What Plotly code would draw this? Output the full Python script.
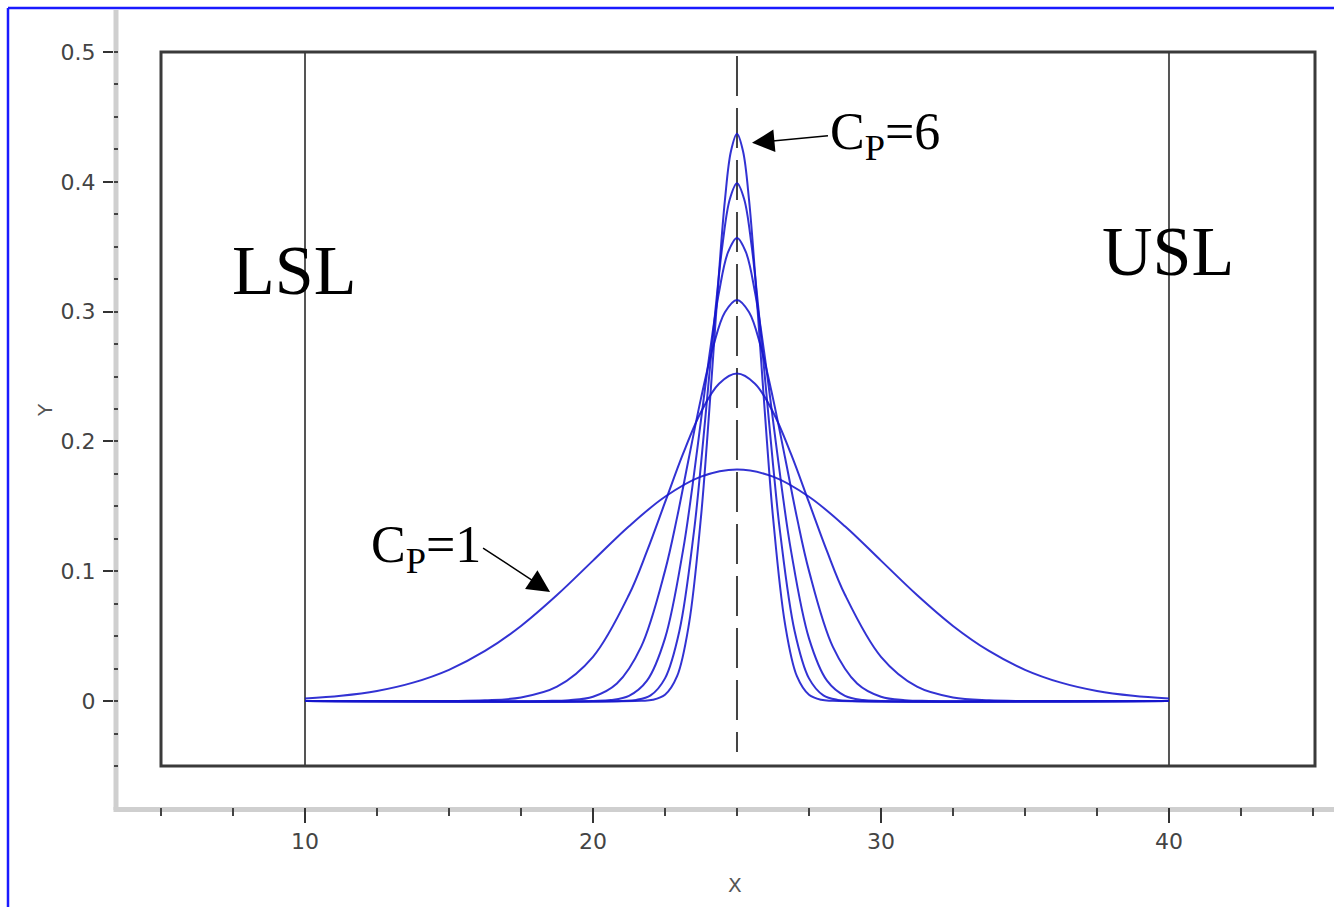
import plotly.graph_objects as go

# Process capability curves, centred between the specification limits
lsl, usl, target = 10, 40, 25
cp_levels = [1, 2, 3, 4, 5, 6]

cp1_x = [10, 11.25, 12.5, 13.75, 15, 16.25, 17.5, 18.75, 20, 21.25, 22.5, 23.75, 25,
         26.25, 27.5, 28.75, 30, 31.25, 32.5, 33.75, 35, 36.25, 37.5, 38.75, 40]
cp1_y = [0.0020, 0.0041, 0.0078, 0.0142, 0.0241, 0.0386, 0.0579, 0.0817, 0.1082,
         0.1347, 0.1574, 0.1729, 0.1784, 0.1729, 0.1574, 0.1347, 0.1082, 0.0817,
         0.0579, 0.0386, 0.0241, 0.0142, 0.0078, 0.0041, 0.0020]

cp2_x = [10, 15, 16.25, 17.5, 18.75, 20, 21.25, 21.875, 22.5, 23.125, 23.75, 24.375, 25,
         25.625, 26.25, 26.875, 27.5, 28.125, 28.75, 30, 31.25, 32.5, 33.75, 35, 40]
cp2_y = [0, 0.0001, 0.0006, 0.0028, 0.0111, 0.0341, 0.0819, 0.1155, 0.1530, 0.1904,
         0.2227, 0.2445, 0.2523, 0.2445, 0.2227, 0.1904, 0.1530, 0.1155, 0.0819,
         0.0341, 0.0111, 0.0028, 0.0006, 0.0001, 0]

cp3_x = [10, 18.33, 19.17, 20, 20.83, 21.67, 22.5, 22.92, 23.33, 23.75, 24.17, 24.58, 25,
         25.42, 25.83, 26.25, 26.67, 27.08, 27.5, 28.33, 29.17, 30, 30.83, 31.67, 40]
cp3_y = [0, 0.0001, 0.0007, 0.0034, 0.0136, 0.0418, 0.1003, 0.1415, 0.1874, 0.2332,
         0.2727, 0.2995, 0.3090, 0.2995, 0.2727, 0.2332, 0.1874, 0.1415, 0.1003,
         0.0418, 0.0136, 0.0034, 0.0007, 0.0001, 0]

cp4_x = [10, 20, 20.625, 21.25, 21.875, 22.5, 23.125, 23.44, 23.75, 24.06, 24.375, 24.69, 25,
         25.31, 25.625, 25.94, 26.25, 26.56, 26.875, 27.5, 28.125, 28.75, 29.375, 30, 40]
cp4_y = [0, 0.0001, 0.0008, 0.0040, 0.0157, 0.0483, 0.1159, 0.1633, 0.2164, 0.2693,
         0.3149, 0.3458, 0.3568, 0.3458, 0.3149, 0.2693, 0.2164, 0.1633, 0.1159,
         0.0483, 0.0157, 0.0040, 0.0008, 0.0001, 0]

cp5_x = [10, 21, 21.5, 22, 22.5, 23, 23.5, 23.75, 24, 24.25, 24.5, 24.75, 25,
         25.25, 25.5, 25.75, 26, 26.25, 26.5, 27, 27.5, 28, 28.5, 29, 40]
cp5_y = [0, 0.0001, 0.0009, 0.0044, 0.0175, 0.0540, 0.1295, 0.1826, 0.2420, 0.3011,
         0.3521, 0.3866, 0.3989, 0.3866, 0.3521, 0.3011, 0.2420, 0.1826, 0.1295,
         0.0540, 0.0175, 0.0044, 0.0009, 0.0001, 0]

cp6_x = [10, 21.67, 22.08, 22.5, 22.92, 23.33, 23.75, 23.96, 24.17, 24.375, 24.58, 24.79, 25,
         25.21, 25.42, 25.625, 25.83, 26.04, 26.25, 26.67, 27.08, 27.5, 27.92, 28.33, 40]
cp6_y = [0, 0.0002, 0.0010, 0.0049, 0.0192, 0.0591, 0.1419, 0.2001, 0.2650, 0.3298,
         0.3857, 0.4235, 0.4370, 0.4235, 0.3857, 0.3298, 0.2650, 0.2001, 0.1419,
         0.0591, 0.0192, 0.0049, 0.0010, 0.0002, 0]

x_major_ticks = [10, 20, 30, 40]
y_major_ticks = [0, 0.1, 0.2, 0.3, 0.4, 0.5]
y_tick_text = ["0", "0.1", "0.2", "0.3", "0.4", "0.5"]

W, H = 1334, 907
X_RANGE = [5, 45.07]
Y_RANGE = [-0.05, 0.5]


def px_x(p):
    return p / W


def px_y(p):
    return 1 - p / H


# plot frame in pixels
FL, FR, FT, FB = 161, 1315, 52, 766

curve_color = "rgba(22,22,205,0.88)"
series = [(cp1_x, cp1_y), (cp2_x, cp2_y), (cp3_x, cp3_y),
          (cp4_x, cp4_y), (cp5_x, cp5_y), (cp6_x, cp6_y)]

fig = go.Figure()
for level, (xs, ys) in zip(cp_levels, series):
    fig.add_trace(go.Scatter(
        x=xs, y=ys, mode="lines", name=f"Cp={level}",
        line=dict(color=curve_color, width=2, shape="spline", smoothing=1.0),
        showlegend=False, hoverinfo="skip",
    ))

tick_font = dict(family="DejaVu Sans", size=22, color="#444444")

fig.update_layout(
    width=W, height=H, autosize=False,
    margin=dict(l=0, r=0, t=0, b=0),
    paper_bgcolor="white", plot_bgcolor="white",
    xaxis=dict(
        domain=[px_x(FL), px_x(FR)], range=X_RANGE, anchor="free",
        position=px_y(807), showline=False, showgrid=False, zeroline=False,
        tickmode="array", tickvals=x_major_ticks,
        ticks="outside", ticklen=15, tickwidth=2, tickcolor="#333333",
        tickfont=tick_font, automargin=False,
        minor=dict(dtick=2.5, tick0=5, ticks="outside", ticklen=8,
                   tickwidth=2, tickcolor="#444444", showgrid=False),
    ),
    yaxis=dict(
        domain=[px_y(FB), px_y(FT)], range=Y_RANGE, anchor="free",
        position=px_x(113), showline=False, showgrid=False, zeroline=False,
        tickmode="array", tickvals=y_major_ticks, ticktext=y_tick_text,
        ticks="outside", ticklen=10, tickwidth=2, tickcolor="#333333",
        tickfont=tick_font, automargin=False, ticklabelstandoff=3,
        minor=dict(dtick=0.025, tick0=0, ticks="inside", ticklen=4,
                   tickwidth=2, tickcolor="#444444", showgrid=False),
    ),
)

shapes = []
# outer blue border
shapes.append(dict(type="line", xref="paper", yref="paper",
                   x0=px_x(8), x1=px_x(8), y0=0, y1=px_y(8),
                   line=dict(color="#1a1aff", width=2.5), layer="below"))
shapes.append(dict(type="line", xref="paper", yref="paper",
                   x0=px_x(8), x1=1, y0=px_y(8), y1=px_y(8),
                   line=dict(color="#1a1aff", width=2.5), layer="below"))
# light grey offset axis bars
shapes.append(dict(type="line", xref="paper", yref="paper",
                   x0=px_x(116), x1=px_x(116), y0=px_y(810), y1=px_y(10),
                   line=dict(color="#cfcfcf", width=5), layer="below"))
shapes.append(dict(type="line", xref="paper", yref="paper",
                   x0=px_x(113.5), x1=1, y0=px_y(809.5), y1=px_y(809.5),
                   line=dict(color="#cfcfcf", width=5), layer="below"))
# plot frame
shapes.append(dict(type="rect", xref="paper", yref="paper",
                   x0=px_x(FL), x1=px_x(FR), y0=px_y(FB), y1=px_y(FT),
                   line=dict(color="#3a3a3a", width=3), layer="above"))
# specification limits
for lim in (lsl, usl):
    shapes.append(dict(type="line", xref="x", yref="y",
                       x0=lim, x1=lim, y0=Y_RANGE[0], y1=Y_RANGE[1],
                       line=dict(color="#555555", width=2), layer="below"))
# target (centre) line
shapes.append(dict(type="line", xref="x", yref="y",
                   x0=target, x1=target, y0=0.497, y1=-0.0393,
                   line=dict(color="#444444", width=2, dash="40px,12px"),
                   layer="below"))
fig.update_layout(shapes=shapes)

serif = "Liberation Serif, Times New Roman, serif"
ann = []
ann.append(dict(text="LSL", xref="paper", yref="paper", x=px_x(294), y=px_y(270),
                xanchor="center", yanchor="middle", showarrow=False,
                font=dict(family=serif, size=70, color="black")))
ann.append(dict(text="USL", xref="paper", yref="paper", x=px_x(1168), y=px_y(251),
                xanchor="center", yanchor="middle", showarrow=False,
                font=dict(family=serif, size=70, color="black")))
# capability labels, each with an arrow running to its curve
ann.append(dict(text="C<sub>P</sub>=6", x=25.52, y=0.430, xref="x", yref="y",
                ax=76, ay=-7, xanchor="left", yanchor="middle",
                showarrow=True, arrowhead=2, arrowsize=3, arrowwidth=1.5,
                arrowcolor="black",
                font=dict(family=serif, size=52, color="black")))
ann.append(dict(text="C<sub>P</sub>=1", x=18.51, y=0.084, xref="x", yref="y",
                ax=-67, ay=-44, xanchor="right", yanchor="middle",
                showarrow=True, arrowhead=2, arrowsize=3, arrowwidth=1.5,
                arrowcolor="black",
                font=dict(family=serif, size=52, color="black")))
# axis titles
ann.append(dict(text="X", xref="paper", yref="paper", x=px_x(735), y=px_y(885),
                xanchor="center", yanchor="middle", showarrow=False,
                font=dict(family="DejaVu Sans", size=20, color="#555555")))
ann.append(dict(text="Y", xref="paper", yref="paper", x=px_x(45), y=px_y(410),
                xanchor="center", yanchor="middle", showarrow=False, textangle=-90,
                font=dict(family="DejaVu Sans", size=20, color="#555555")))
fig.update_layout(annotations=ann)

fig.write_html("out.html")
